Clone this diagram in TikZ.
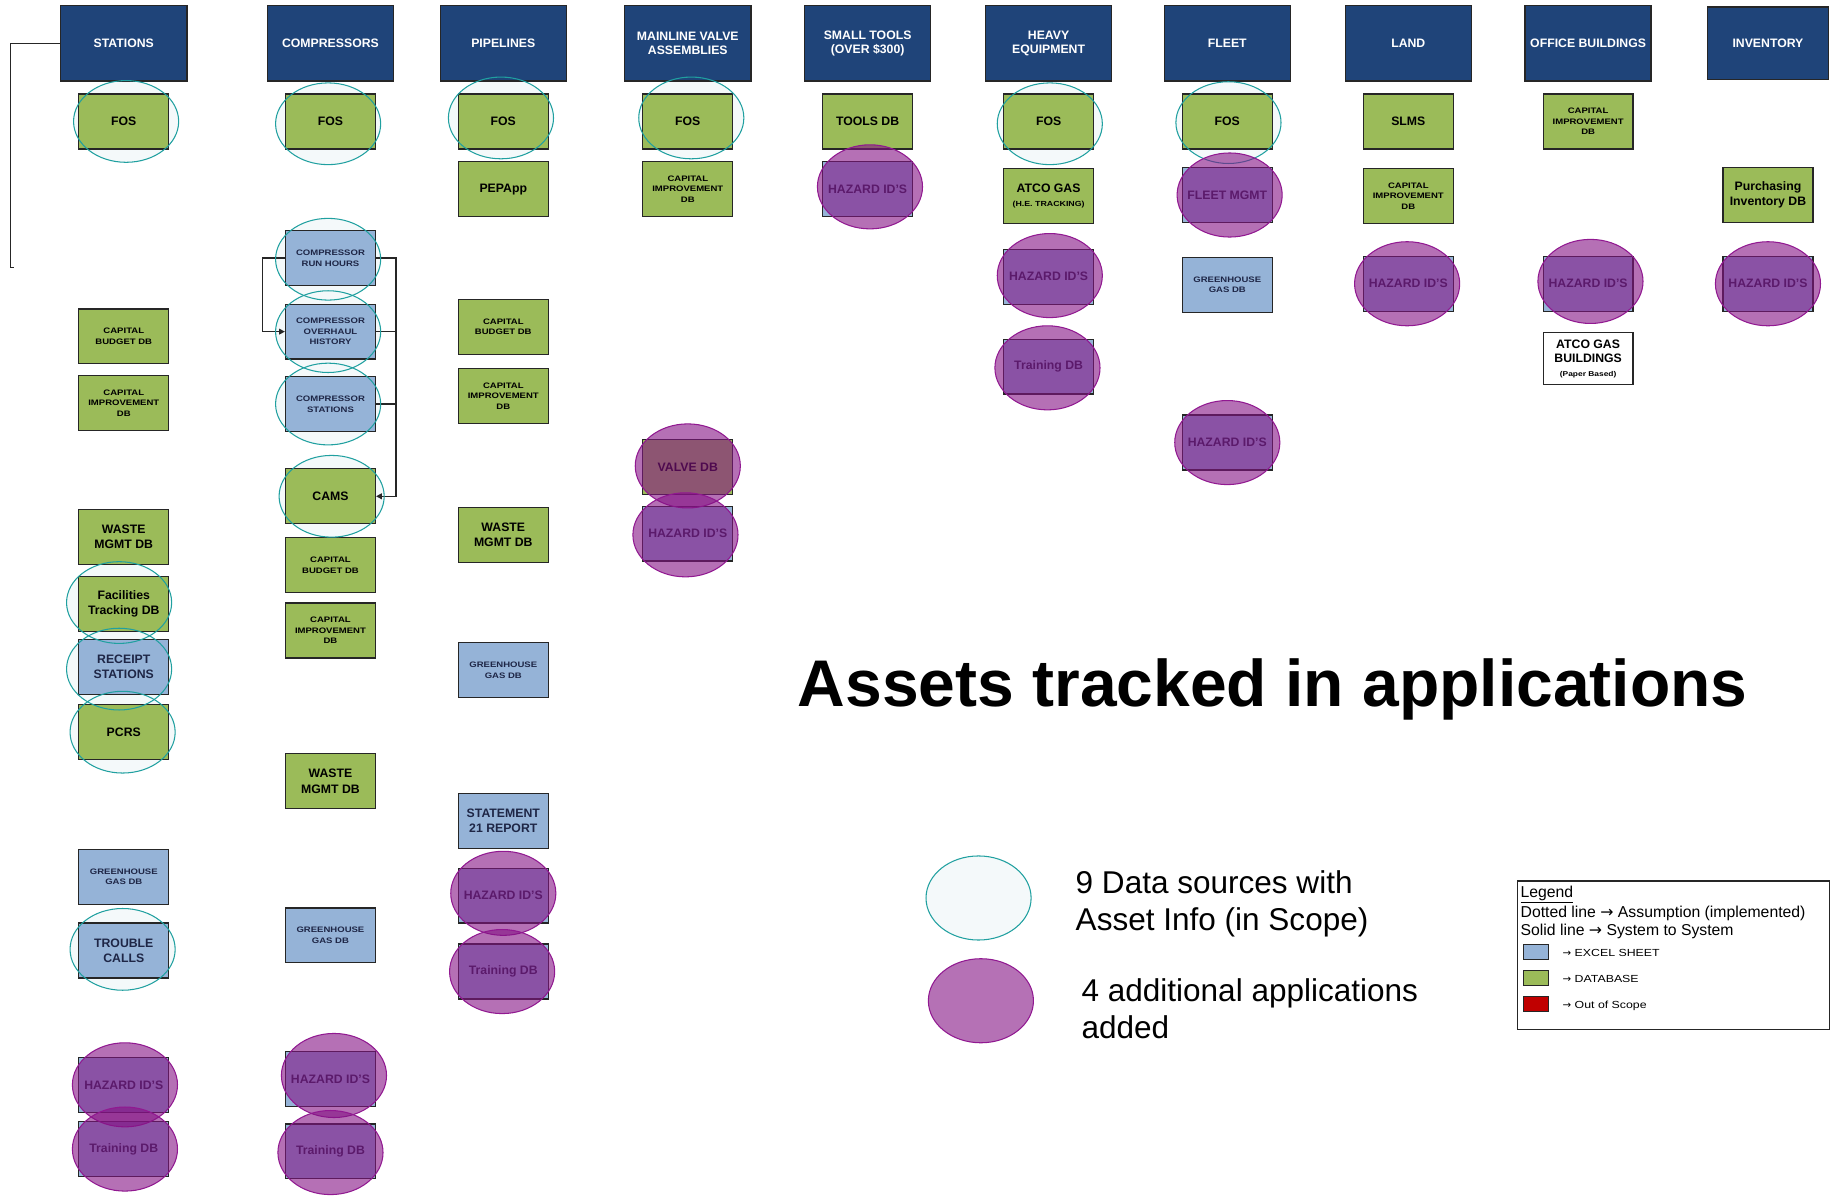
\documentclass[tikz,border=0pt]{standalone}
\usepackage{fontspec}
\setmainfont{Liberation Sans}
\newfontfamily\wide[FakeStretch=1.2]{Liberation Sans}
\newfontfamily\arrfont{DejaVu Sans}
\newcommand\rarr{{\arrfont →}}
\usetikzlibrary{shapes.geometric,arrows.meta}
\pgfdeclarelayer{back}
\pgfsetlayers{back,main}
\definecolor{navy}{RGB}{31,68,121}
\definecolor{dbgreen}{RGB}{155,187,89}
\definecolor{xlblue}{RGB}{149,179,215}
\definecolor{oos}{RGB}{192,0,0}
\definecolor{boxline}{RGB}{38,38,38}
\definecolor{tealline}{RGB}{32,160,160}
\definecolor{tealbg}{RGB}{244,249,250}
\definecolor{purp}{RGB}{132,18,132}
\definecolor{purpline}{RGB}{145,25,145}
\definecolor{bluetext}{RGB}{30,38,70}
\tikzset{
 hdr/.style={draw=boxline, line width=1.2pt, fill=navy, minimum width=108pt, minimum height=65pt, inner sep=1pt, text=white, align=center, font=\bfseries\fontsize{10.5}{12}\selectfont},
 abox/.style={draw=boxline, line width=1.1pt, minimum width=77pt, minimum height=47pt, inner sep=1pt, align=center},
 gbox/.style={abox, fill=dbgreen, text=black},
 bbox/.style={abox, fill=xlblue, text=bluetext},
 fbig/.style={font=\bfseries\fontsize{10.5}{13}\selectfont},
 fsml/.style={font=\wide\bfseries\fontsize{6.8}{9}\selectfont},
 tealring/.style={ellipse, draw=tealline, line width=0.9pt, minimum width=90pt, minimum height=70pt, inner sep=0pt},
 purpring/.style={ellipse, draw=purpline, line width=0.9pt, fill=purp, fill opacity=0.6, minimum width=90pt, minimum height=72pt, inner sep=0pt},
 conn/.style={draw=boxline, line width=1.1pt},
 arrowend/.style={-{Triangle[length=5pt,width=5pt]}},
 legtxt/.style={anchor=west, inner sep=0pt, font=\fontsize{13.5}{16}\selectfont},
 legsml/.style={anchor=west, inner sep=0pt, font=\wide\fontsize{8.8}{10}\selectfont},
 legsq/.style={draw=boxline, line width=0.9pt, minimum width=21pt, minimum height=13pt, inner sep=0pt},
}
\newcommand\tring[3]{%
 \begin{pgfonlayer}{back}\fill[tealbg] (#2,#3) ellipse [x radius=45pt, y radius=35pt];\end{pgfonlayer}%
 \node[tealring] (#1) at (#2,#3) {};}
\newcommand\pring[3]{\node[purpring] (#1) at (#2,#3) {};}
\begin{document}
\begin{tikzpicture}[x=1pt,y=-1pt]
\begin{pgfonlayer}{back}
\fill[white] (0,0) rectangle (1568,1024);
\end{pgfonlayer}
\useasboundingbox (0,0) rectangle (1568,1024);

% headers
\node[hdr] (hst) at (106,37) {STATIONS};
\node[hdr] (hco) at (283,37) {COMPRESSORS};
\node[hdr] (hpi) at (431,37) {PIPELINES};
\node[hdr] (hml) at (589,37) {MAINLINE VALVE\\ASSEMBLIES};
\node[hdr] (hsm) at (743,37) {SMALL TOOLS\\(OVER \$300)};
\node[hdr] (hhe) at (898,37) {HEAVY\\EQUIPMENT};
\node[hdr] (hfl) at (1051,37) {FLEET};
\node[hdr] (hla) at (1206,37) {LAND};
\node[hdr] (hof) at (1360,37) {OFFICE BUILDINGS};
\node[hdr, minimum width=104pt, minimum height=62pt] (hin) at (1514,37) {INVENTORY};

% stations
\node[gbox,fbig] (st1) at (106,104) {FOS};
\node[gbox,fsml] (st2) at (106,288) {CAPITAL\\BUDGET DB};
\node[gbox,fsml] (st3) at (106,345) {CAPITAL\\IMPROVEMENT\\DB};
\node[gbox,fbig] (st4) at (106,460) {WASTE\\MGMT DB};
\node[gbox,fbig] (st5) at (106,517) {Facilities\\Tracking DB};
\node[bbox,fbig] (st6) at (106,571) {RECEIPT\\STATIONS};
\node[gbox,fbig] (st7) at (106,627) {PCRS};
\node[bbox,fsml] (st8) at (106,751) {GREENHOUSE\\GAS DB};
\node[bbox,fbig] (st9) at (106,814) {TROUBLE\\CALLS};
\node[bbox,fbig] (st10) at (106,929) {HAZARD ID'S};
\node[bbox,fbig] (st11) at (106,984) {Training DB};

% compressors
\node[gbox,fbig] (co1) at (283,104) {FOS};
\node[bbox,fsml] (co2) at (283,221) {COMPRESSOR\\RUN HOURS};
\node[bbox,fsml] (co3) at (283,284) {COMPRESSOR\\OVERHAUL\\HISTORY};
\node[bbox,fsml] (co4) at (283,346) {COMPRESSOR\\STATIONS};
\node[gbox,fbig] (co5) at (283,425) {CAMS};
\node[gbox,fsml] (co6) at (283,484) {CAPITAL\\BUDGET DB};
\node[gbox,fsml] (co7) at (283,540) {CAPITAL\\IMPROVEMENT\\DB};
\node[gbox,fbig] (co8) at (283,669) {WASTE\\MGMT DB};
\node[bbox,fsml] (co9) at (283,801) {GREENHOUSE\\GAS DB};
\node[bbox,fbig] (co10) at (283,924) {HAZARD ID'S};
\node[bbox,fbig] (co11) at (283,986) {Training DB};

% pipelines
\node[gbox,fbig] (pi1) at (431,104) {FOS};
\node[gbox,fbig] (pi2) at (431,162) {PEPApp};
\node[gbox,fsml] (pi3) at (431,280) {CAPITAL\\BUDGET DB};
\node[gbox,fsml] (pi4) at (431,339) {CAPITAL\\IMPROVEMENT\\DB};
\node[gbox,fbig] (pi5) at (431,458) {WASTE\\MGMT DB};
\node[bbox,fsml] (pi6) at (431,574) {GREENHOUSE\\GAS DB};
\node[bbox,fbig] (pi7) at (431,703) {STATEMENT\\21 REPORT};
\node[bbox,fbig] (pi8) at (431,767) {HAZARD ID'S};
\node[bbox,fbig] (pi9) at (431,832) {Training DB};

% mainline valve assemblies
\node[gbox,fbig] (ml1) at (589,104) {FOS};
\node[gbox,fsml] (ml2) at (589,162) {CAPITAL\\IMPROVEMENT\\DB};
\node[gbox,fbig] (ml3) at (589,400) {VALVE DB};
\node[bbox,fbig] (ml4) at (589,457) {HAZARD ID'S};

% small tools
\node[gbox,fbig] (sm1) at (743,104) {TOOLS DB};
\node[bbox,fbig] (sm2) at (743,162) {HAZARD ID'S};

% heavy equipment
\node[gbox,fbig] (he1) at (898,104) {FOS};
\node[gbox] (he2) at (898,168) {{\bfseries\fontsize{10.5}{11}\selectfont ATCO GAS}\\{\wide\bfseries\fontsize{6.3}{9}\selectfont (H.E. TRACKING)}};
\node[bbox,fbig] (he3) at (898,237) {HAZARD ID'S};
\node[bbox,fbig] (he4) at (898,314) {Training DB};

% fleet
\node[gbox,fbig] (fl1) at (1051,104) {FOS};
\node[bbox,fbig] (fl2) at (1051,167) {FLEET MGMT};
\node[bbox,fsml] (fl3) at (1051,244) {GREENHOUSE\\GAS DB};
\node[bbox,fbig] (fl4) at (1051,379) {HAZARD ID'S};

% land
\node[gbox,fbig] (la1) at (1206,104) {SLMS};
\node[gbox,fsml] (la2) at (1206,168) {CAPITAL\\IMPROVEMENT\\DB};
\node[bbox,fbig] (la3) at (1206,243) {HAZARD ID'S};

% office buildings
\node[gbox,fsml] (of1) at (1360,104) {CAPITAL\\IMPROVEMENT\\DB};
\node[bbox,fbig] (of2) at (1360,243) {HAZARD ID'S};
\node[abox, fill=white, text=black, minimum height=44pt] (of3) at (1360,307) {{\bfseries\fontsize{10.5}{12}\selectfont ATCO GAS}\\{\bfseries\fontsize{10.5}{12}\selectfont BUILDINGS}\\{\wide\bfseries\fontsize{6}{8}\selectfont (Paper Based)}};

% inventory
\node[gbox,fbig] (in1) at (1514,167) {Purchasing\\Inventory DB};
\node[bbox,fbig] (in2) at (1514,243) {HAZARD ID'S};

% connectors
\coordinate (brkend) at (12,229);
\draw[conn] (hst.west) -- (9,37) -- (9,229) -- (brkend);
\draw[conn,arrowend] (co2.west) -- ++(-19,0) |- (co3.west);
\draw[conn,arrowend] (co2.east) -- ++(17,0) |- (co5.east);
\draw[conn] (co3.east) -- ++(17,0);
\draw[conn] (co4.east) -- ++(17,0);

% teal rings (in scope)
\tring{t1}{108}{104}
\tring{t2}{281}{106}
\tring{t3}{429}{101}
\tring{t4}{592}{101}
\tring{t5}{899}{106}
\tring{t6}{1052}{105}
\tring{t7}{281}{222}
\tring{t8}{281}{284}
\tring{t9}{281}{346}
\tring{t10}{284}{425}
\tring{t11}{102}{516}
\tring{t12}{102}{573}
\tring{t13}{105}{627}
\tring{t14}{105}{813}

% purple rings (added)
\pring{p1}{745}{160}
\pring{p2}{899}{236}
\pring{p3}{897}{315}
\pring{p4}{1053}{167}
\pring{p5}{1051}{379}
\pring{p6}{1205}{243}
\pring{p7}{1362}{241}
\pring{p8}{1514}{243}
\pring{p9}{589}{399}
\pring{p10}{587}{458}
\pring{p11}{431}{765}
\pring{p12}{430}{832}
\pring{p13}{107}{929}
\pring{p14}{107}{984}
\pring{p15}{286}{921}
\pring{p16}{283}{987}

% title
\node[anchor=base west, inner sep=0pt, font=\bfseries\fontsize{56.5}{60}\selectfont] (title) at (683,605) {Assets tracked in applications};

% key ellipses
\node[ellipse, draw=tealline, line width=0.9pt, fill=tealbg, minimum width=90pt, minimum height=72pt, inner sep=0pt] (k1) at (838,769) {};
\node[ellipse, draw=purpline, line width=0.9pt, fill={rgb,255:red,181;green,113;blue,181}, minimum width=90pt, minimum height=72pt, inner sep=0pt] (k2) at (840,857) {};
\node[anchor=west, align=left, inner sep=0pt, font=\fontsize{27}{32}\selectfont] (k1t) at (921,774) {9 Data sources with\\Asset Info (in Scope)};
\node[anchor=west, align=left, inner sep=0pt, font=\fontsize{27}{32}\selectfont] (k2t) at (926,864) {4 additional applications\\added};

% legend box
\node[draw=boxline, line width=1pt, anchor=north west, minimum width=267pt, minimum height=127pt, inner sep=0pt] (leg) at (1299,754) {};
\node[legtxt] (lg0) at (1302,766) {\underline{Legend}};
\node[legtxt] (lg1) at (1302,782) {Dotted line \rarr{} Assumption (implemented)};
\node[legtxt] (lg2) at (1302,798) {Solid line \rarr{} System to System};
\node[legsq, fill=xlblue] (sq1) at (1315.5,815.5) {};
\node[legsq, fill=dbgreen] (sq2) at (1315.5,837.5) {};
\node[legsq, fill=oos] (sq3) at (1315.5,859.5) {};
\node[legsml] (lq1) at (1338,816) {\rarr{} EXCEL SHEET};
\node[legsml] (lq2) at (1338,838) {\rarr{} DATABASE};
\node[legsml] (lq3) at (1338,861) {\rarr{} Out of Scope};
\end{tikzpicture}
\end{document}
